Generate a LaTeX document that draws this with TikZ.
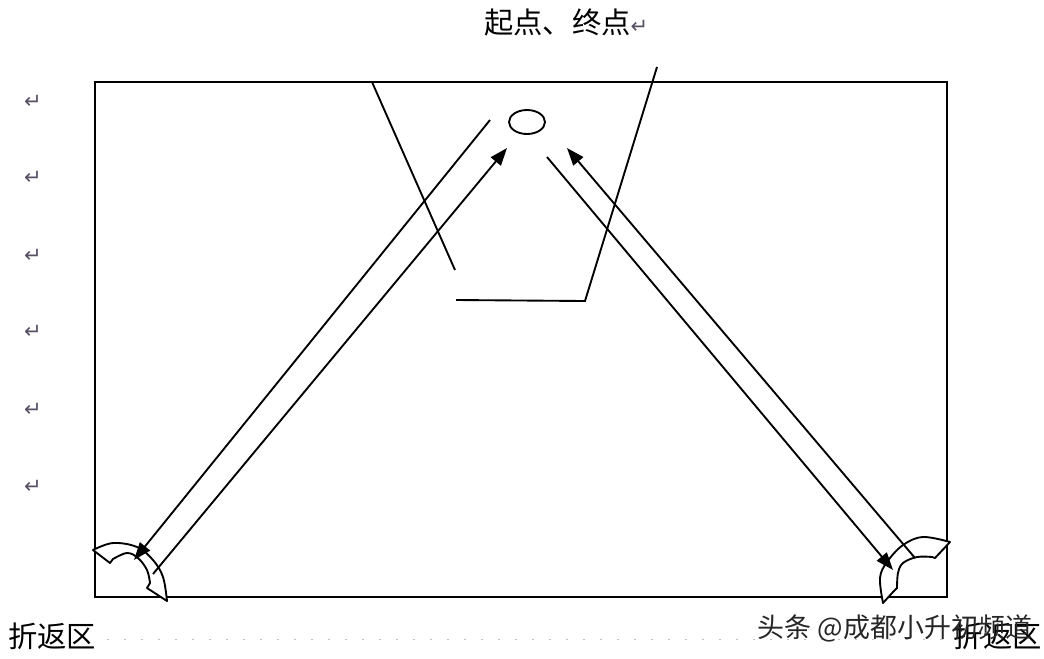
\documentclass[tikz,border=0pt]{standalone}
\usepackage{fontspec}
\usepackage{xcolor}
\usepackage{tikz}
\usetikzlibrary{shapes,arrows.meta,positioning,calc}
\newfontfamily\cjk{Noto Sans CJK SC}
\newfontfamily\symb{DejaVu Sans}
\definecolor{markgray}{RGB}{88,80,100}

\begin{document}
\begin{tikzpicture}[x=0.03cm, y=-0.03cm,
    line/.style={line width=1.6pt},
    arrow/.style={line width=1.6pt, -{Triangle[length=15pt,width=11pt]}},
    band/.style={line width=1.6pt, fill=white, line join=round},
    label/.style={font=\cjk\fontsize{25}{25}\selectfont, inner sep=0pt},
    retmark/.style={font=\symb\fontsize{18}{18}\selectfont, text=markgray, inner sep=0pt},
    watermark/.style={font=\cjk\fontsize{23}{23}\selectfont, text=black!85, inner sep=0pt},
    dotline/.style={line width=1.1pt, gray, dash pattern=on 0.01pt off 14.5pt, line cap=round}]

    \useasboundingbox (0,0) rectangle (1044,658);

    % Field
    \coordinate (fieldnw) at (95,82);
    \coordinate (fieldse) at (947,597);
    \draw[line] (fieldnw) rectangle (fieldse);

    % Start / finish
    \node[draw, ellipse, line width=1.6pt, minimum width=1.08cm, minimum height=0.72cm, inner sep=0pt] (start) at (527,122) {};
    \node[label, anchor=west] (title) at (484,22) {起点、终点{\symb\fontsize{18}{18}\selectfont\color{markgray}↵}};

    % Pointer
    \coordinate (ptra) at (372,82);
    \coordinate (ptrb) at (455,270);
    \coordinate (ptrc) at (456,300);
    \coordinate (ptrd) at (585,301);
    \coordinate (ptre) at (657,67);
    \draw[line] (ptra) -- (ptrb);
    \draw[line] (ptrc) -- (ptrd) -- (ptre);

    % Turn zones
    \draw[band] plot[smooth, tension=0.6] coordinates {(93,550) (113,543) (137,547) (153,560) (163,577) (167,601)}
        -- (147,588) -- plot[smooth, tension=0.6] coordinates {(150,583) (147,570) (138,558) (127,553) (113,559)}
        -- (110,563) -- cycle;
    \draw[band] plot[smooth, tension=0.6] coordinates {(950,542) (923,537) (903,545) (887,562) (880,578) (883,603)}
        -- (893,592) -- plot[smooth, tension=0.6] coordinates {(897,588) (898,573) (903,563) (917,557) (932,557)}
        -- (935,558) -- cycle;

    % Runs
    \coordinate (lout) at (490,120);
    \coordinate (lturn) at (134,560);
    \coordinate (lback) at (153,574);
    \coordinate (lhome) at (507,148);
    \coordinate (rout) at (547,157);
    \coordinate (rturn) at (893,570);
    \coordinate (rback) at (915,558);
    \coordinate (rhome) at (567,148);
    \draw[arrow] (lout) -- (lturn);
    \draw[arrow] (lback) -- (lhome);
    \draw[arrow] (rout) -- (rturn);
    \draw[arrow] (rback) -- (rhome);

    % Paragraph marks
    \foreach \y in {102,178,256,332,410,487}
        \node[retmark] (ret\y) at (33,\y) {↵};

    % Bottom labels
    \node[label, anchor=west] (leftzone) at (8,636) {折返区};
    \node[label, anchor=east] (rightzone) at (1042,636) {折返区};
    \draw[dotline] ([xshift=10pt,yshift=-3pt]leftzone.east) -- ([xshift=-10pt,yshift=-3pt]rightzone.west);
    \node[watermark] (mark) at (895,628) {头条 @成都小升初频道};

\end{tikzpicture}
\end{document}
